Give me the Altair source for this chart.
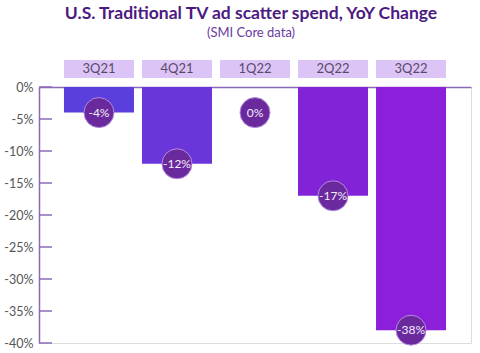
import altair as alt
import pandas as pd

quarters = ["3Q21", "4Q21", "1Q22", "2Q22", "3Q22"]
yoy_change = [-4, -12, 0, -17, -38]
y_ticks = [0, -5, -10, -15, -20, -25, -30, -35, -40]

df = pd.DataFrame({"quarter": quarters, "value": yoy_change})
ticks_df = pd.DataFrame({"tick": y_ticks})

bar_colors = ["#5b3fdc", "#6a35d9", "#7a2bd8", "#8323d8", "#8c1fd9"]
axis_col = "#8a6ab8"
FONT = "Lato"

xscale = alt.Scale(domain=quarters, paddingInner=0.1026, paddingOuter=0.32)
yscale = alt.Scale(domain=[-40, 0], nice=False)

x_axis = alt.Axis(orient="top", labels=False, ticks=False, title=None,
                  domainColor=axis_col, domainWidth=1.5)
y_axis = alt.Axis(values=y_ticks, labelExpr="datum.value + '%'", ticks=False,
                  title=None, grid=False, domainColor=axis_col, domainWidth=1.5,
                  labelColor="#555555", labelFont=FONT, labelFontSize=12.5,
                  labelPadding=6, labelOverlap=False, labelBound=False,
                  labelFlush=False)

def xq():
    return alt.X("quarter:N", scale=xscale, sort=quarters, axis=x_axis)

def yq(field):
    return alt.Y(field, scale=yscale, axis=y_axis)

bars = alt.Chart(df).mark_bar().encode(
    x=xq(),
    y=yq("value:Q"),
    y2=alt.datum(0),
    color=alt.Color("quarter:N", scale=alt.Scale(domain=quarters, range=bar_colors), legend=None),
)

tick_marks = alt.Chart(ticks_df).mark_rule(color=axis_col, strokeWidth=1.5).encode(
    x=alt.value(0), x2=alt.value(13), y=yq("tick:Q")
)

headers = alt.Chart(df).mark_bar(color="#dcc4f6", size=70).encode(
    x=xq(), y=alt.value(-27), y2=alt.value(-9)
)
header_text = alt.Chart(df).mark_text(font=FONT, fontSize=13, color="#5a4a6a").encode(
    x=xq(), y=alt.value(-18), text="quarter:N"
)

circle_base = alt.Chart(df).transform_calculate(pos="min(datum.value, -4)")
circles = circle_base.mark_circle(size=900, color="#6a2a9e", opacity=1,
                                  stroke="#b48ae0", strokeWidth=1).encode(
    x=xq(), y=yq("pos:Q")
)
circle_text = circle_base.transform_calculate(lbl="datum.value + '%'").mark_text(
    font=FONT, fontSize=12, color="#f4ecfb").encode(
    x=xq(), y=yq("pos:Q"), text="lbl:N"
)

chart = alt.layer(bars, tick_marks, headers, header_text, circles, circle_text).properties(
    width=432, height=256,
    padding={"left": 39, "top": 87, "right": 9, "bottom": 10},
    autosize=alt.AutoSizeParams(type="none"),
    title=alt.TitleParams(
        "U.S. Traditional TV ad scatter spend, YoY Change",
        subtitle="(SMI Core data)",
        anchor="middle", frame="group", font=FONT, fontSize=17.5, fontWeight="bold",
        color="#4b1a82", subtitleFont=FONT, subtitleFontSize=13, subtitleColor="#6a3aa0",
        subtitlePadding=5, offset=20, dx=-4,
    ),
).configure_view(strokeOpacity=0, strokeWidth=0).configure(background="white")

chart.save("out.html", embed_options={"renderer": "svg", "actions": False})
